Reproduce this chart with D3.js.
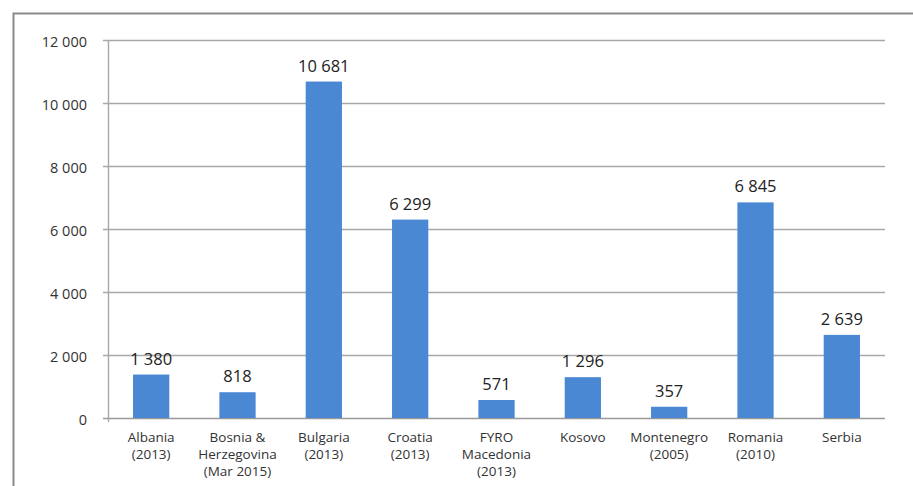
<!DOCTYPE html>
<html><head><meta charset="utf-8">
<script src="https://cdn.jsdelivr.net/npm/d3@7"></script>
<style>body{margin:0;background:#fff;font-family:"Open Sans",sans-serif;}</style>
</head><body>
<svg id="c" width="913" height="486"></svg>
<script>
const categories = [
  ["Albania","(2013)"],
  ["Bosnia &","Herzegovina","(Mar 2015)"],
  ["Bulgaria","(2013)"],
  ["Croatia","(2013)"],
  ["FYRO","Macedonia","(2013)"],
  ["Kosovo"],
  ["Montenegro","(2005)"],
  ["Romania","(2010)"],
  ["Serbia"]
];
const values = [1380, 818, 10681, 6299, 571, 1296, 357, 6845, 2639];
const valueLabels = ["1 380","818","10 681","6 299","571","1 296","357","6 845","2 639"];
const yTicks = [0, 2000, 4000, 6000, 8000, 10000, 12000];
const yTickLabels = ["0","2 000","4 000","6 000","8 000","10 000","12 000"];

const svg = d3.select("#c");
// outer frame
svg.append("path").attr("d","M13.5,486 L13.5,13.5 L913,13.5").attr("fill","none").attr("stroke","#8a8a8a").attr("stroke-width",2);

const x = d3.scaleBand().domain(d3.range(categories.length)).range([108, 885]).paddingInner(0.58).paddingOuter(0.29);
const y = d3.scaleLinear().domain([0, 12000]).range([418, 40]);

// gridlines
svg.append("g").selectAll("line").data(yTicks).join("line")
  .attr("x1",103).attr("x2",885)
  .attr("y1",d=>y(d)+0.5).attr("y2",d=>y(d)+0.5)
  .attr("stroke",d=>d===0?"#999":"#a8a8a8").attr("stroke-width",1.4);
// y axis line
svg.append("line").attr("x1",108.5).attr("x2",108.5).attr("y1",y(12000)).attr("y2",y(0)+4)
  .attr("stroke","#a8a8a8").attr("stroke-width",1.4);
// y tick labels
svg.append("g").selectAll("text").data(yTicks).join("text")
  .attr("x",87).attr("y",d=>y(d)+7)
  .attr("text-anchor","end").attr("font-size",14.5).attr("fill","#333")
  .text((d,i)=>yTickLabels[i]);

// bars
svg.append("g").selectAll("rect").data(values).join("rect")
  .attr("x",(d,i)=>x(i)).attr("width",x.bandwidth())
  .attr("y",d=>y(d)).attr("height",d=>y(0)-y(d))
  .attr("fill","#4a88d4");

// value labels
svg.append("g").selectAll("text").data(values).join("text")
  .attr("x",(d,i)=>x(i)+x.bandwidth()/2).attr("y",d=>y(d)-10)
  .attr("text-anchor","middle").attr("font-size",16.5).attr("fill","#222")
  .text((d,i)=>valueLabels[i]);

// category labels
const cg = svg.append("g").selectAll("text").data(categories).join("text")
  .attr("x",(d,i)=>x(i)+x.bandwidth()/2).attr("y",442)
  .attr("text-anchor","middle").attr("font-size",13.5).attr("fill","#333");
cg.selectAll("tspan").data(d=>d).join("tspan")
  .attr("x",function(){return this.parentNode.getAttribute("x");})
  .attr("dy",(d,i)=>i===0?0:17).text(d=>d);
</script>
</body></html>
